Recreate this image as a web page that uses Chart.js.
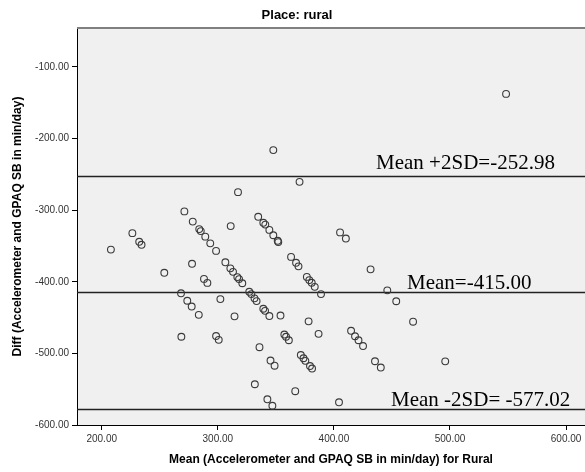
<!DOCTYPE html>
<html>
<head>
<meta charset="utf-8">
<script src="https://cdn.jsdelivr.net/npm/chart.js@4.4.1/dist/chart.umd.min.js"></script>
<style>
  html, body { margin: 0; padding: 0; background: #fff; }
</style>
</head>
<body>
<canvas id="chart" width="585" height="472"></canvas>
<script>
// データ
const meanVals = [
  207.9, 226.4, 232.3, 234.3, 253.9, 268.3, 273.7, 277.5, 283.6, 268.6,
  271.2, 278.4, 284.0, 285.3, 289.2, 293.5, 298.5, 277.8, 288.1, 291.0,
  298.5, 300.8, 302.2, 317.4, 311.1, 334.8, 339.2, 340.9, 344.4, 347.8,
  351.6, 352.1, 306.5, 310.8, 313.1, 316.8, 318.3, 321.1, 327.1, 328.9,
  331.6, 333.4, 339.2, 340.7, 344.4, 354.0, 314.4, 335.9, 345.4, 348.9,
  331.9, 342.7, 347.0, 357.3, 358.8, 361.2, 363.1, 367.4, 369.5, 366.7,
  370.4, 347.8, 371.5, 373.8, 375.4, 379.4, 381.2, 376.7, 378.8, 380.9,
  383.5, 388.9, 378.2, 386.8, 405.3, 410.3, 431.6, 446.0, 453.7, 468.2,
  414.8, 418.2, 421.2, 425.1, 435.4, 440.4, 495.9, 404.4, 548.3
];
const diffVals = [
  -355.1, -332.1, -344.2, -348.4, -387.5, -416.1, -426.5, -434.6, -446.2, -476.8,
  -301.8, -316.0, -326.5, -329.3, -337.0, -346.4, -356.9, -374.9, -396.0, -401.6,
  -475.8, -481.1, -424.2, -274.9, -322.3, -309.3, -317.7, -320.2, -327.6, -335.1,
  -342.8, -344.6, -372.8, -381.3, -386.2, -393.5, -396.3, -402.1, -414.0, -417.2,
  -423.2, -427.0, -437.7, -440.6, -447.9, -447.2, -448.3, -491.4, -510.0, -517.2,
  -543.1, -564.1, -573.1, -473.7, -476.8, -481.7, -365.3, -373.5, -378.5, -552.8,
  -260.5, -216.2, -502.3, -506.8, -510.4, -517.7, -521.2, -393.2, -397.7, -401.4,
  -407.1, -417.2, -455.3, -472.7, -331.1, -339.7, -382.7, -412.0, -427.2, -455.8,
  -468.5, -476.1, -481.7, -489.8, -511.0, -519.8, -511.1, -568.3, -137.7
];
const xTicks = [200, 300, 400, 500, 600];
const yTicks = [-600, -500, -400, -300, -200, -100];
const refValues = [-252.98, -415.00, -577.02];
const refLabels = ["Mean +2SD=-252.98", "Mean=-415.00", "Mean -2SD= -577.02"];

const SANS = "'Liberation Sans', Arial, sans-serif";
const SERIF = "'Liberation Serif', 'Times New Roman', serif";

// ラベル位置（データ座標）
const labelAnchors = [
  { x: 436.3, y: -242.8 },
  { x: 463.0, y: -410.2 },
  { x: 449.2, y: -573.5 }
];

const decorPlugin = {
  id: "decor",
  beforeDraw(chart) {
    const { ctx, chartArea: a } = chart;
    ctx.save();
    ctx.fillStyle = "#f0f0f0";
    ctx.fillRect(a.left, a.top, a.right - a.left, a.bottom - a.top);
    ctx.restore();
  },
  beforeDatasetsDraw(chart) {
    const { ctx, chartArea: a, scales } = chart;
    ctx.save();
    ctx.strokeStyle = "#222";
    ctx.lineWidth = 1.5;
    refValues.forEach(v => {
      const y = Math.round(scales.y.getPixelForValue(v)) + 0.5;
      ctx.beginPath();
      ctx.moveTo(a.left, y);
      ctx.lineTo(a.right, y);
      ctx.stroke();
    });
    // 上枠
    ctx.strokeStyle = "#808080";
    ctx.lineWidth = 2;
    ctx.beginPath();
    ctx.moveTo(a.left, a.top);
    ctx.lineTo(a.right, a.top);
    ctx.stroke();
    ctx.restore();
  },
  afterDatasetsDraw(chart) {
    const { ctx, scales } = chart;
    ctx.save();
    ctx.fillStyle = "#000";
    ctx.font = "21px " + SERIF;
    ctx.textAlign = "left";
    ctx.textBaseline = "alphabetic";
    refLabels.forEach((t, i) => {
      const p = labelAnchors[i];
      ctx.fillText(t, scales.x.getPixelForValue(p.x), scales.y.getPixelForValue(p.y));
    });
    // タイトル
    ctx.font = "bold 13px " + SANS;
    ctx.textAlign = "center";
    ctx.textBaseline = "middle";
    ctx.fillText("Place: rural", 297, 15);
    ctx.restore();
  }
};

const ctx = document.getElementById("chart").getContext("2d");
const chart = new Chart(ctx, {
  type: "scatter",
  data: {
    datasets: [{
      label: "rural",
      data: meanVals.map((x, i) => ({ x: x, y: diffVals[i] })),
      pointRadius: 3.4,
      pointHoverRadius: 3.4,
      pointBorderWidth: 1.1,
      borderColor: "#3a3a3a",
      backgroundColor: "rgba(0,0,0,0)",
      pointBackgroundColor: "rgba(0,0,0,0)"
    }]
  },
  options: {
    responsive: false,
    animation: false,
    devicePixelRatio: 1,
    layout: { autoPadding: false, padding: { top: 28, right: 0, left: 0, bottom: 0 } },
    plugins: {
      legend: { display: false },
      tooltip: { enabled: false },
      title: { display: false }
    },
    scales: {
      x: {
        type: "linear",
        position: "bottom",
        min: 178.7,
        max: 616.3,
        afterBuildTicks: s => { s.ticks = xTicks.map(v => ({ value: v })); },
        afterFit: s => { s.height = 47; s.paddingLeft = 0; s.paddingRight = 0; },
        ticks: {
          callback: v => v.toFixed(2),
          font: { size: 10, family: SANS },
          color: "#333",
          padding: 3,
          maxRotation: 0,
          autoSkip: false
        },
        grid: { drawOnChartArea: false, tickLength: 5, color: "#000" },
        border: { color: "#000", width: 1 },
        title: {
          display: true,
          text: "Mean (Accelerometer and GPAQ SB in min/day) for Rural",
          font: { size: 12, weight: "bold", family: SANS },
          color: "#000",
          padding: { top: 4, bottom: 5 }
        }
      },
      y: {
        type: "linear",
        min: -600,
        max: -45.7,
        afterBuildTicks: s => { s.ticks = yTicks.map(v => ({ value: v })); },
        afterFit: s => { s.width = 77; s.paddingTop = 0; s.paddingBottom = 0; },
        ticks: {
          callback: v => v.toFixed(2),
          font: { size: 10, family: SANS },
          color: "#333",
          padding: 3,
          autoSkip: false
        },
        grid: { drawOnChartArea: false, tickLength: 5, color: "#000" },
        border: { color: "#000", width: 1 },
        title: {
          display: true,
          text: "Diff (Accelerometer and GPAQ SB in min/day)",
          font: { size: 12, weight: "bold", family: SANS },
          color: "#000",
          padding: { top: 10, bottom: 0 }
        }
      }
    }
  },
  plugins: [decorPlugin]
});
</script>
</body>
</html>
